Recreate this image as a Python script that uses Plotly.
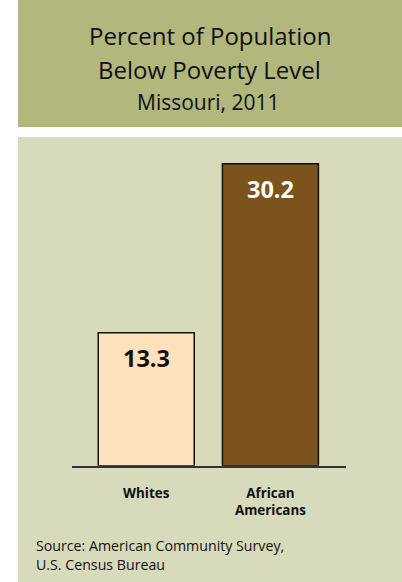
import plotly.graph_objects as go

categories = ["Whites", "African<br>Americans"]
values = [13.3, 30.2]
value_labels = ["13.3", "30.2"]
bar_colors = ["#ffe1bb", "#7c531c"]
label_colors = ["#111111", "#ffffff"]

W, H = 402, 582
FONT = "Open Sans"

def py(px):
    return 1 - px / H

def pxx(px):
    return px / W

x_pos = list(range(len(categories)))

fig = go.Figure()
fig.add_trace(go.Bar(
    x=x_pos, y=values, width=0.773,
    marker=dict(color=bar_colors, line=dict(color="#111111", width=1.5)),
    hoverinfo="skip",
))

for xi, v, t, c in zip(x_pos, values, value_labels, label_colors):
    fig.add_annotation(x=xi, y=v, text=f"<b>{t}</b>", showarrow=False,
                       xref="x", yref="y", yanchor="middle", yshift=-25,
                       font=dict(family=FONT, size=23.5, color=c))

shapes = [
    dict(type="rect", xref="paper", yref="paper", x0=pxx(18), x1=1, y0=py(127), y1=1,
         fillcolor="#b1b77d", line=dict(width=0), layer="below"),
    dict(type="rect", xref="paper", yref="paper", x0=pxx(18), x1=1, y0=0, y1=py(137),
         fillcolor="#d7dbbc", line=dict(width=0), layer="below"),
]

annos = [
    dict(text="Percent of Population", x=pxx(210), y=py(35), size=24),
    dict(text="Below Poverty Level", x=pxx(210), y=py(69), size=24),
    dict(text="Missouri, 2011", x=pxx(208), y=py(102), size=21),
]
for a in annos:
    fig.add_annotation(text=a["text"], x=a["x"], y=a["y"], xref="paper", yref="paper",
                       showarrow=False, xanchor="center", yanchor="middle",
                       font=dict(family=FONT, size=a["size"], color="#111111"))

source_lines = ["Source: American Community Survey,", "U.S. Census Bureau"]
for i, line in enumerate(source_lines):
    fig.add_annotation(text=line, x=pxx(35), y=py(545.5 + 18.5 * i), xref="paper", yref="paper",
                       showarrow=False, xanchor="left", yanchor="middle", align="left",
                       borderpad=0,
                       font=dict(family=FONT, size=14.2, color="#111111"))

fig.update_layout(
    width=W, height=H, margin=dict(l=0, r=0, t=0, b=0),
    paper_bgcolor="#ffffff", plot_bgcolor="rgba(0,0,0,0)",
    showlegend=False, shapes=shapes,
    xaxis=dict(domain=[pxx(71.7), pxx(345.7)], range=[-0.6, 1.606],
               tickvals=x_pos, ticktext=[f"<b>{c}</b>" for c in categories],
               showline=True, linecolor="#333333", linewidth=1.5,
               showgrid=False, zeroline=False, ticks="",
               ticklabelstandoff=14,
               tickfont=dict(family=FONT, size=13.4, color="#111111")),
    yaxis=dict(domain=[py(465.7), py(145.7)], range=[0, 32], visible=False,
               showgrid=False, zeroline=False),
)

fig.write_html("out.html", config={"displayModeBar": False},
               post_script="document.body.style.margin='0px';")
